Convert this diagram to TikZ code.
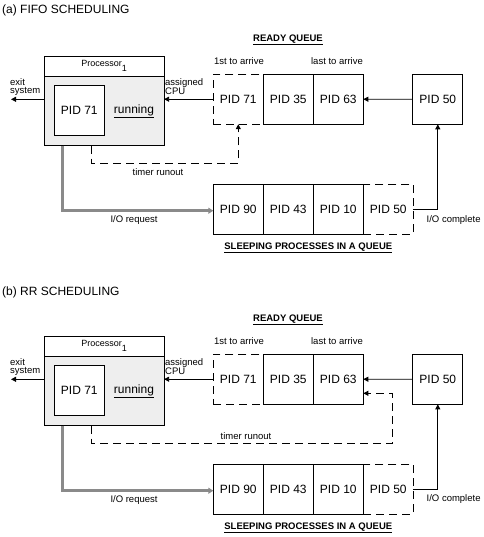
\documentclass[tikz,border=0pt]{standalone}
\usepackage{fontspec}
\setmainfont{Liberation Sans}
\usetikzlibrary{arrows.meta, positioning}
\definecolor{cpuGray}{HTML}{EEEEEE}
\definecolor{ioGray}{HTML}{8A8A8A}

\tikzset{
    cell/.style={draw, line width=0.8pt, minimum width=50pt, minimum height=50pt,
        inner sep=0pt, outer sep=0pt, font=\fontsize{12}{14}\selectfont},
    ghost/.style={cell, dash pattern=on 8pt off 5pt},
    cpubox/.style={draw, line width=0.8pt, minimum width=119.7pt, inner sep=0pt, outer sep=0pt},
    lbl/.style={font=\fontsize{9.5}{8.5}\selectfont, inner sep=0pt, align=left},
    qtitle/.style={font=\fontsize{9.5}{11}\selectfont\bfseries, inner sep=0pt},
    ptitle/.style={font=\fontsize{12}{14}\selectfont, inner sep=0pt, anchor=west},
    arr/.style={line width=0.8pt, -{Triangle[length=5pt,width=5pt]}},
    timerarr/.style={arr, dash pattern=on 8pt off 5pt},
    ioarr/.style={line width=2.6pt, draw=ioGray, -{Triangle[length=5pt,width=6pt]}},
}

\begin{document}
\begin{tikzpicture}[x=1pt, y=-1pt]
    \useasboundingbox (0,0) rectangle (483,537);

    % ---------------- (a) FIFO ----------------
    \node[ptitle] (atitle) at (2,10) {(a) FIFO SCHEDULING};

    % Processor
    \node[cpubox, minimum height=20pt, fill=white] (aphead) at (104.2,66)
        {\fontsize{9}{10}\selectfont Processor\raisebox{-5pt}{1}};
    \node[cpubox, minimum height=69.7pt, fill=cpuGray, below=0pt of aphead] (apbody) {};
    \node[cell, fill=white] (arun71) at (79.3,110.2) {PID 71};
    \node[font=\fontsize{12}{14}\selectfont, inner sep=0pt] (arun) at (134,111) {\underline{running}};

    % Ready queue
    \node[qtitle] (areadyq) at (288,40) {\underline{READY QUEUE}};
    \node[ghost] (a71) at (238.3,99.2) {PID 71};
    \node[cell, right=0pt of a71] (a35) {PID 35};
    \node[cell, right=0pt of a35] (a63) {PID 63};
    \node[cell] (a50) at (437.8,99.3) {PID 50};
    \node[lbl] (afirst) at (239,61) {1st to arrive};
    \node[lbl] (alast) at (337,61) {last to arrive};

    % Sleeping queue
    \node[ghost] (as50) at (388.3,209.2) {PID 50};
    \node[cell, left=0pt of as50] (as10) {PID 10};
    \node[cell, left=0pt of as10] (as43) {PID 43};
    \node[cell, left=0pt of as43] (as90) {PID 90};
    \node[qtitle] (asleepq) at (308.3,248) {\underline{SLEEPING PROCESSES IN A QUEUE}};

    % Connectors
    \coordinate (aexit) at (11,99.3);
    \coordinate (atimer) at (91.7,163.3);
    \coordinate (aio) at (62.3,210.7);
    \draw[arr] (apbody.west |- aexit) -- (aexit);
    \draw[arr] (a71.west) -- (apbody.east |- a71.west);
    \draw[arr] (a50.west) -- (a63.east);
    \draw[timerarr] (apbody.south -| atimer) -- (atimer) -| (a71.south);
    \draw[ioarr] (apbody.south -| aio) -- (aio) -- (as90.west |- aio);
    \draw[arr] (as50.east) -| (a50.south);

    % Labels
    \node[lbl, anchor=north west] (aexitlbl) at (10,78) {exit\\system};
    \node[lbl, anchor=north west] (acpulbl) at (165,78) {assigned\\CPU};
    \node[lbl] (atimerlbl) at (158,172) {timer runout};
    \node[lbl] (aiolbl) at (134,220) {I/O request};
    \node[lbl, anchor=west] (adonelbl) at (426.5,220) {I/O complete};

    % ---------------- (b) RR ----------------
    \begin{scope}[yshift=-280pt]
    \node[ptitle] (btitle) at (2,12) {(b) RR SCHEDULING};

    % Processor
    \node[cpubox, minimum height=20pt, fill=white] (bphead) at (104.2,66)
        {\fontsize{9}{10}\selectfont Processor\raisebox{-5pt}{1}};
    \node[cpubox, minimum height=69.7pt, fill=cpuGray, below=0pt of bphead] (bpbody) {};
    \node[cell, fill=white] (brun71) at (79.3,110.2) {PID 71};
    \node[font=\fontsize{12}{14}\selectfont, inner sep=0pt] (brun) at (134,111) {\underline{running}};

    % Ready queue
    \node[qtitle] (breadyq) at (288,40) {\underline{READY QUEUE}};
    \node[ghost] (b71) at (238.3,99.2) {PID 71};
    \node[cell, right=0pt of b71] (b35) {PID 35};
    \node[cell, right=0pt of b35] (b63) {PID 63};
    \node[cell] (b50) at (437.8,99.3) {PID 50};
    \node[lbl] (bfirst) at (239,61) {1st to arrive};
    \node[lbl] (blast) at (337,61) {last to arrive};

    % Sleeping queue
    \node[ghost] (bs50) at (388.3,209.2) {PID 50};
    \node[cell, left=0pt of bs50] (bs10) {PID 10};
    \node[cell, left=0pt of bs10] (bs43) {PID 43};
    \node[cell, left=0pt of bs43] (bs90) {PID 90};
    \node[qtitle] (bsleepq) at (308.3,248) {\underline{SLEEPING PROCESSES IN A QUEUE}};

    % Connectors
    \coordinate (bexit) at (11,99.3);
    \coordinate (btimer) at (91.7,163.3);
    \coordinate (bturn) at (392.3,113.3);
    \coordinate (bio) at (62.3,210.7);
    \draw[arr] (bpbody.west |- bexit) -- (bexit);
    \draw[arr] (b71.west) -- (bpbody.east |- b71.west);
    \draw[arr] (b50.west) -- (b63.east);
    \draw[timerarr] (bpbody.south -| btimer) -- (btimer) -| (bturn) -- (b63.east |- bturn);
    \draw[ioarr] (bpbody.south -| bio) -- (bio) -- (bs90.west |- bio);
    \draw[arr] (bs50.east) -| (b50.south);

    % Labels
    \node[lbl, anchor=north west] (bexitlbl) at (10,78) {exit\\system};
    \node[lbl, anchor=north west] (bcpulbl) at (165,78) {assigned\\CPU};
    \node[lbl] (btimerlbl) at (246,156) {timer runout};
    \node[lbl] (biolbl) at (134,220.5) {I/O request};
    \node[lbl, anchor=west] (bdonelbl) at (426.5,219) {I/O complete};
    \end{scope}
\end{tikzpicture}
\end{document}
